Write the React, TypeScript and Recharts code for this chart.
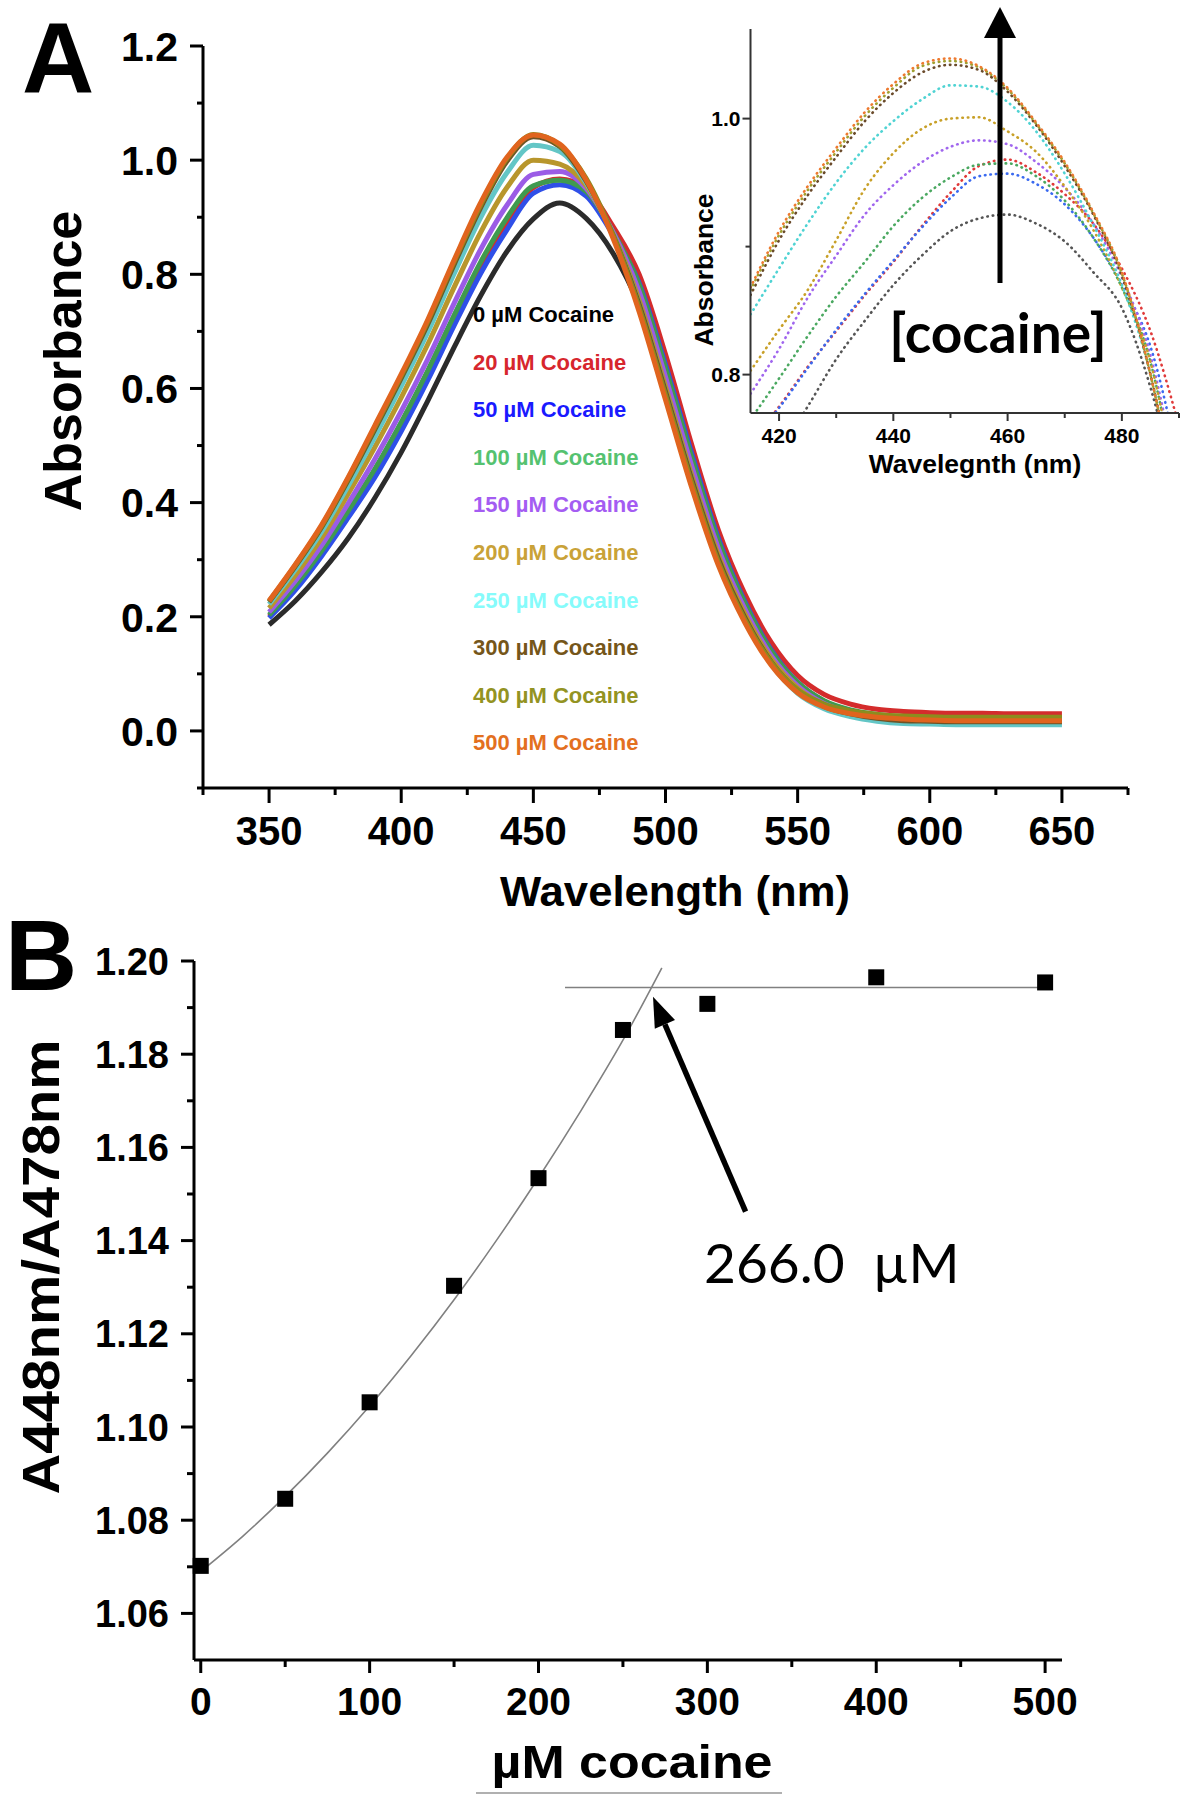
import React from 'react';
import { LineChart, Line, XAxis, YAxis, ComposedChart, Scatter } from 'recharts';

const FONT = '"Liberation Sans", Arial, Helvetica, sans-serif';
const CALI = 'Lato, "Open Sans", sans-serif';

// ---- panel A: spectra (absorbance vs wavelength, 10 nm steps) ----
const WAVELENGTHS = [350, 360, 370, 380, 390, 400, 410, 420, 430, 440, 450, 460, 470, 480, 490, 500,
  510, 520, 530, 540, 550, 560, 570, 580, 590, 600, 610, 620, 630, 640, 650];
const ABS_0 = [.186, .228, .279, .338, .408, .488, .578, .672, .762, .840, .897, .925, .898, .838, .745, .600,
  .445, .305, .203, .124, .073, .044, .030, .022, .019, .017, .016, .016, .016, .016, .016];
const ABS_20 = [.200, .251, .311, .379, .451, .533, .624, .720, .812, .889, .952, .967, .950, .885, .800, .660,
  .500, .352, .240, .155, .097, .064, .047, .038, .034, .032, .031, .031, .030, .030, .030];
const ABS_50 = [.198, .247, .307, .374, .444, .525, .614, .710, .801, .878, .942, .957, .937, .870, .785, .642,
  .485, .338, .227, .142, .085, .052, .034, .025, .021, .019, .018, .018, .018, .018, .018];
const ABS_100 = [.203, .255, .316, .386, .459, .541, .631, .728, .821, .899, .955, .965, .945, .876, .782, .636,
  .478, .333, .224, .140, .085, .053, .037, .029, .025, .023, .022, .022, .022, .022, .022];
const ABS_150 = [.208, .263, .326, .399, .476, .560, .651, .749, .843, .921, .975, .980, .950, .875, .770, .620,
  .463, .320, .214, .132, .079, .048, .033, .025, .022, .021, .020, .020, .020, .020, .020];
const ABS_200 = [.215, .273, .339, .416, .497, .584, .677, .777, .873, .952, 1.000, .993, .955, .872, .755, .603,
  .447, .308, .205, .126, .075, .046, .032, .025, .022, .021, .020, .020, .020, .020, .020];
const ABS_250 = [.222, .283, .350, .430, .515, .604, .698, .801, .899, .978, 1.026, 1.015, .960, .870, .748, .595,
  .440, .300, .196, .117, .066, .039, .025, .017, .013, .012, .011, .011, .011, .011, .011];
const ABS_300 = [.226, .289, .358, .440, .528, .618, .712, .817, .916, .998, 1.041, 1.024, .963, .870, .748, .595,
  .440, .302, .199, .121, .071, .043, .030, .022, .018, .017, .016, .016, .016, .016, .016];
const ABS_400 = [.227, .291, .360, .443, .532, .622, .717, .822, .921, 1.003, 1.045, 1.026, .968, .870, .742, .588,
  .433, .296, .195, .120, .072, .047, .035, .029, .026, .025, .024, .024, .024, .024, .024];
const ABS_500 = [.228, .292, .362, .445, .535, .625, .720, .825, .925, 1.005, 1.044, 1.028, .965, .865, .735, .580,
  .425, .290, .190, .115, .067, .042, .030, .024, .021, .019, .018, .018, .018, .018, .018];

const CONC_LABELS = ['0', '20', '50', '100', '150', '200', '250', '300', '400', '500'];
const SPECTRA = [ABS_0, ABS_20, ABS_50, ABS_100, ABS_150, ABS_200, ABS_250, ABS_300, ABS_400, ABS_500];
const LINE_COLORS = ['#2b2b2b', '#d42c2c', '#2f4fe8', '#3f9a4f', '#9b5ce6', '#b8962c', '#63c6c6', '#6e5326', '#8c8c1e', '#e0641e'];
const LABEL_COLORS = ['#000000', '#d7262d', '#1a1aff', '#55c270', '#a45cf2', '#c9a238', '#86fbfb', '#75561a', '#939322', '#e3701f'];

// ---- inset: zoom on the maximum (5 nm steps) ----
const INSET_NM = [415, 420, 425, 430, 435, 440, 445, 450, 455, 460, 465, 470, 475, 480, 485, 490];
const INSET_0 = [.710, .740, .775, .812, .842, .870, .893, .912, .922, .925, .918, .904, .880, .852, .790, .700];
const INSET_20 = [.748, .775, .806, .834, .862, .888, .916, .942, .963, .968, .958, .941, .918, .883, .834, .760];
const INSET_50 = [.748, .774, .805, .835, .863, .889, .915, .938, .955, .957, .949, .933, .907, .870, .822, .730];
const INSET_100 = [.765, .797, .830, .861, .888, .916, .938, .954, .964, .965, .955, .936, .907, .868, .810, .700];
const INSET_150 = [.785, .820, .860, .893, .925, .948, .966, .978, .983, .980, .966, .946, .918, .876, .815, .710];
const INSET_200 = [.803, .835, .866, .905, .945, .973, .992, 1.000, 1.001, .990, .974, .947, .913, .868, .810, .700];
const INSET_250 = [.847, .883, .918, .950, .977, .998, 1.015, 1.026, 1.025, 1.013, .990, .957, .917, .870, .800, .690];
const INSET_300 = [.862, .905, .940, .970, .998, 1.020, 1.036, 1.042, 1.038, 1.021, .995, .963, .925, .877, .800, .690];
const INSET_400 = [.866, .909, .944, .974, 1.002, 1.024, 1.041, 1.045, 1.040, 1.023, .996, .965, .926, .879, .800, .690];
const INSET_500 = [.868, .912, .947, .977, 1.005, 1.027, 1.043, 1.047, 1.041, 1.024, .997, .966, .927, .880, .800, .690];
const INSET_SERIES = [INSET_0, INSET_20, INSET_50, INSET_100, INSET_150, INSET_200, INSET_250, INSET_300, INSET_400, INSET_500];
const INSET_COLORS = ['#555555', '#e03a3a', '#3a6af0', '#4aa860', '#a066ee', '#c8a028', '#4fd3d3', '#6a4a2a', '#a0a030', '#ee7a30'];

// ---- panel B: ratio vs cocaine ----
const COCAINE_UM = [0, 50, 100, 150, 200, 250, 300, 400, 500];
const RATIO = [1.0702, 1.0846, 1.1053, 1.1303, 1.1534, 1.1852, 1.1908, 1.1965, 1.1954];
const FIT_UM = [0, 25, 50, 75, 100, 125, 150, 175, 200, 225, 250, 273];
const FIT_RATIO = [1.069, 1.0766, 1.0851, 1.0944, 1.1045, 1.1155, 1.1273, 1.140, 1.1535, 1.1678, 1.183, 1.1985];
const PLATEAU_UM = [215.7, 503];
const PLATEAU_RATIO = [1.1943, 1.1943];

// ticks
const A_X_TICKS = [325, 350, 375, 400, 425, 450, 475, 500, 525, 550, 575, 600, 625, 650, 675];
const A_Y_TICKS = [-0.1, 0, 0.1, 0.2, 0.3, 0.4, 0.5, 0.6, 0.7, 0.8, 0.9, 1.0, 1.1, 1.2];
const IN_X_TICKS = [420, 430, 440, 450, 460, 470, 480, 490];
const IN_Y_TICKS = [0.8, 0.9, 1.0];
const B_X_TICKS = [0, 50, 100, 150, 200, 250, 300, 350, 400, 450, 500];
const B_Y_TICKS = [1.06, 1.07, 1.08, 1.09, 1.10, 1.11, 1.12, 1.13, 1.14, 1.15, 1.16, 1.17, 1.18, 1.19, 1.20];

const mainRows = WAVELENGTHS.map((nm, i) => {
  const r: any = { nm };
  SPECTRA.forEach((s, k) => { r['c' + k] = s[i]; });
  return r;
});
const insetRows = INSET_NM.map((nm, i) => {
  const r: any = { nm };
  INSET_SERIES.forEach((s, k) => { r['c' + k] = s[i]; });
  return r;
});
const pointRows = COCAINE_UM.map((x, i) => ({ x, y: RATIO[i] }));
const fitRows = FIT_UM.map((x, i) => ({ x, y: FIT_RATIO[i] }));
const plateauRows = PLATEAU_UM.map((x, i) => ({ x, y: PLATEAU_RATIO[i] }));

type TickOpts = {
  isMajor: (v: number) => boolean;
  major: number; minor: number; fontSize: number; gap: number;
  fmt: (v: number) => string; stroke: string; sw: number;
};

const xTick = (o: TickOpts) => (p: any) => {
  const v = p.payload.value;
  const maj = o.isMajor(v);
  return (
    <g>
      <line x1={p.x} x2={p.x} y1={p.y} y2={p.y + (maj ? o.major : o.minor)} stroke={o.stroke} strokeWidth={o.sw} />
      {maj && (
        <text x={p.x} y={p.y + o.gap} textAnchor="middle" fontSize={o.fontSize} fontWeight="bold" fontFamily={FONT} fill="#000">
          {o.fmt(v)}
        </text>
      )}
    </g>
  );
};

const yTick = (o: TickOpts) => (p: any) => {
  const v = p.payload.value;
  const maj = o.isMajor(v);
  return (
    <g>
      <line x1={p.x} x2={p.x - (maj ? o.major : o.minor)} y1={p.y} y2={p.y} stroke={o.stroke} strokeWidth={o.sw} />
      {maj && (
        <text x={p.x - o.gap} y={p.y + o.fontSize * 0.36} textAnchor="end" fontSize={o.fontSize} fontWeight="bold" fontFamily={FONT} fill="#000">
          {o.fmt(v)}
        </text>
      )}
    </g>
  );
};

const square = (p: any) => <rect x={p.cx - 8} y={p.cy - 8} width={16} height={16} fill="#000" />;

const abs: React.CSSProperties = { position: 'absolute' };

export default function App() {
  return (
    <div style={{ position: 'absolute', left: 0, top: 0, width: 1193, height: 1800, background: '#fff' }}>
      {/* panel A main */}
      <div style={{ ...abs, left: 0, top: 0 }}>
        <LineChart width={1193} height={920} data={mainRows} margin={{ top: 46, right: 65, bottom: 42, left: 93 }}>
          <XAxis dataKey="nm" type="number" domain={[325, 675]} ticks={A_X_TICKS} interval={0} height={90}
            tickSize={0} tickMargin={0} tickLine={false} axisLine={{ stroke: '#000', strokeWidth: 3 }}
            tick={xTick({ isMajor: v => v % 50 === 0, major: 15, minor: 7, fontSize: 40, gap: 57, fmt: v => String(v), stroke: '#000', sw: 3 })} />
          <YAxis type="number" domain={[-0.1, 1.2]} ticks={A_Y_TICKS} interval={0} width={110}
            tickSize={0} tickMargin={0} tickLine={false} axisLine={{ stroke: '#000', strokeWidth: 3 }}
            tick={yTick({ isMajor: v => v > -0.05 && Math.round(v * 10) % 2 === 0, major: 13, minor: 6, fontSize: 41, gap: 25, fmt: v => v.toFixed(1), stroke: '#000', sw: 3 })} />
          {SPECTRA.map((_, k) => (
            <Line key={k} dataKey={'c' + k} type="monotone" stroke={LINE_COLORS[k]} strokeWidth={5}
              dot={false} isAnimationActive={false} />
          ))}
        </LineChart>
      </div>

      {/* inset */}
      <div style={{ ...abs, left: 650, top: 0 }}>
        <LineChart width={560} height={500} data={insetRows} margin={{ top: 29, right: 31, bottom: 47, left: 40.5 }}>
          <XAxis dataKey="nm" type="number" domain={[415, 490]} ticks={IN_X_TICKS} interval={0} height={40} allowDataOverflow
            tickSize={0} tickMargin={0} tickLine={false} axisLine={{ stroke: '#333', strokeWidth: 2 }}
            tick={xTick({ isMajor: v => v % 20 === 0, major: 8, minor: 5, fontSize: 21, gap: 30, fmt: v => String(v), stroke: '#333', sw: 2 })} />
          <YAxis type="number" domain={[0.77, 1.07]} ticks={IN_Y_TICKS} interval={0} width={60} allowDataOverflow
            tickSize={0} tickMargin={0} tickLine={false} axisLine={{ stroke: '#333', strokeWidth: 2 }}
            tick={yTick({ isMajor: v => Math.abs(v - 0.9) > 0.01, major: 8, minor: 5, fontSize: 21, gap: 10, fmt: v => v.toFixed(1), stroke: '#333', sw: 2 })} />
          {INSET_SERIES.map((_, k) => (
            <Line key={k} dataKey={'c' + k} type="monotone" stroke={INSET_COLORS[k]} strokeWidth={2.6}
              strokeDasharray="0.5 5" strokeLinecap="round" dot={false} isAnimationActive={false} />
          ))}
        </LineChart>
      </div>

      {/* panel B */}
      <div style={{ ...abs, left: 0, top: 900 }}>
        <ComposedChart width={1193} height={900} margin={{ top: 61, right: 131, bottom: 60, left: 94 }}>
          <XAxis dataKey="x" type="number" domain={[-4, 510]} ticks={B_X_TICKS} interval={0} height={80}
            tickSize={0} tickMargin={0} tickLine={false} axisLine={{ stroke: '#000', strokeWidth: 3 }}
            tick={xTick({ isMajor: v => v % 100 === 0, major: 13, minor: 7, fontSize: 39, gap: 55, fmt: v => String(v), stroke: '#000', sw: 3 })} />
          <YAxis type="number" domain={[1.05, 1.2]} ticks={B_Y_TICKS} interval={0} width={100}
            tickSize={0} tickMargin={0} tickLine={false} axisLine={{ stroke: '#000', strokeWidth: 3 }}
            tick={yTick({ isMajor: v => Math.round(v * 100) % 2 === 0, major: 13, minor: 7, fontSize: 38, gap: 25, fmt: v => v.toFixed(2), stroke: '#000', sw: 3 })} />
          <Line data={fitRows} dataKey="y" type="monotone" stroke="#808080" strokeWidth={1.6} dot={false} isAnimationActive={false} />
          <Line data={plateauRows} dataKey="y" type="linear" stroke="#808080" strokeWidth={1.6} dot={false} isAnimationActive={false} />
          <Scatter data={pointRows} dataKey="y" shape={square} isAnimationActive={false} />
        </ComposedChart>
      </div>

      {/* labels and annotations */}
      <svg width={1193} height={1800} style={{ ...abs, left: 0, top: 0, pointerEvents: 'none' }}>
        <text x={22} y={93} fontSize={100} fontWeight="bold" fontFamily={FONT}>A</text>
        <text x={5} y={990} fontSize={100} fontWeight="bold" fontFamily={FONT}>B</text>

        <text transform="translate(62,361) rotate(-90)" dy="0.36em" textAnchor="middle" fontSize={52} fontWeight="bold" fontFamily={FONT}>Absorbance</text>
        <text x={675} y={906} textAnchor="middle" fontSize={42} fontWeight="bold" fontFamily={FONT} textLength={350} lengthAdjust="spacingAndGlyphs">Wavelength (nm)</text>

        {CONC_LABELS.map((c, i) => (
          <text key={c} x={473} y={322 + i * 47.6} fontSize={22} fontWeight="bold" fontFamily={FONT} fill={LABEL_COLORS[i]}>
            {c} µM Cocaine
          </text>
        ))}

        <text transform="translate(703,270) rotate(-90)" dy="0.36em" textAnchor="middle" fontSize={26.5} fontWeight="bold" fontFamily={FONT}>Absorbance</text>
        <text x={975} y={473} textAnchor="middle" fontSize={26.5} fontWeight="bold" fontFamily={FONT}>Wavelegnth (nm)</text>
        <line x1={1000} y1={283} x2={1000} y2={34} stroke="#000" strokeWidth={5} />
        <polygon points="1000,7 984,38 1016,38" fill="#000" />
        <text x={998} y={353} textAnchor="middle" fontSize={55} fontWeight="bold" fontFamily={CALI}>[cocaine]</text>

        <text transform="translate(40,1267) rotate(-90)" dy="0.36em" textAnchor="middle" fontSize={52} fontWeight="bold" fontFamily={FONT} textLength={455} lengthAdjust="spacingAndGlyphs">A448nm/A478nm</text>
        <text x={632} y={1778} textAnchor="middle" fontSize={46} fontWeight="bold" fontFamily={FONT} textLength={281} lengthAdjust="spacingAndGlyphs">µM cocaine</text>
        <line x1={476} y1={1793} x2={782} y2={1793} stroke="#b0b0b0" strokeWidth={2} />

        <line x1={745.6} y1={1211.7} x2={664.9} y2={1024.3} stroke="#000" strokeWidth={5.5} />
        <polygon points="653,996.7 675,1020 654.8,1028.7" fill="#000" />
        <text x={704} y={1283} fontSize={55} fontFamily={CALI} style={{ whiteSpace: 'pre' }}>266.0  µM</text>
      </svg>
    </div>
  );
}
